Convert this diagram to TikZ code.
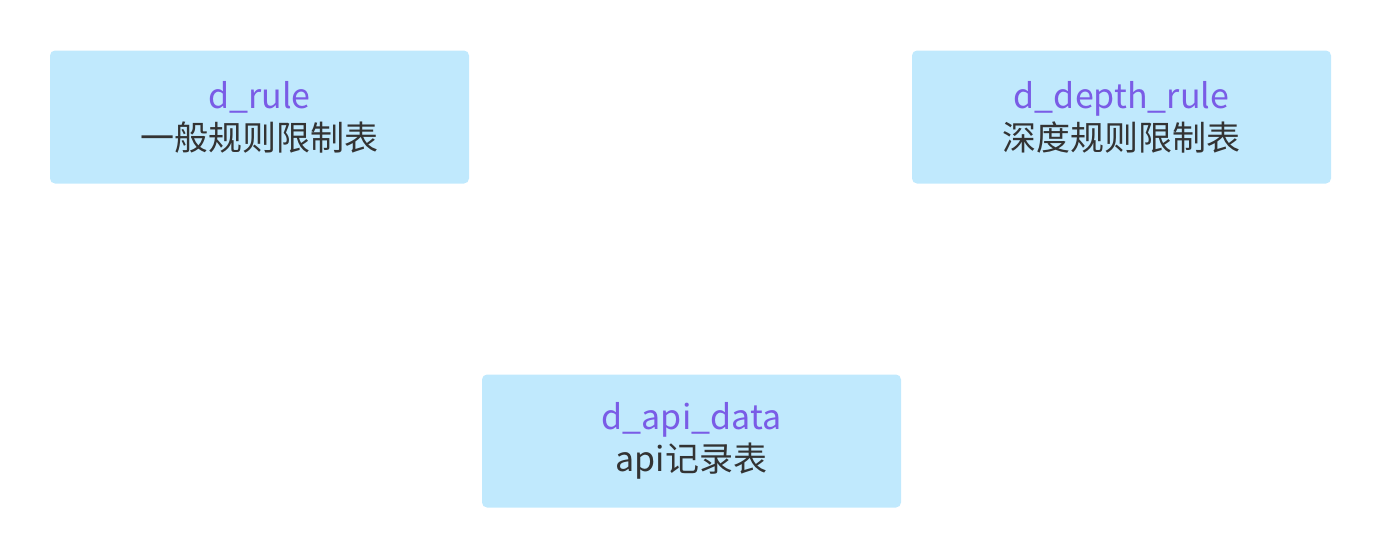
\documentclass[tikz,border=0pt]{standalone}
\usepackage{fontspec}
\setmainfont{Noto Sans CJK SC}
\definecolor{boxfill}{HTML}{C0E9FD}
\definecolor{titlec}{HTML}{7A5CE6}
\definecolor{bodyc}{HTML}{333333}
\begin{document}
\begin{tikzpicture}[x=1pt,y=-1pt,
  tbl/.style={fill=boxfill, rounded corners=5pt, minimum width=419pt, minimum height=133pt,
    align=center, inner sep=0pt, font=\fontsize{34}{42}\selectfont, text=bodyc}]
\useasboundingbox (0,0) rectangle (1382,558);
\node[tbl] (rule) at (259.5,117) {\textcolor{titlec}{d\_rule}\\一般规则限制表};
\node[tbl] (depth) at (1121.5,117) {\textcolor{titlec}{d\_depth\_rule}\\深度规则限制表};
\node[tbl] (api) at (691.5,441) {\textcolor{titlec}{d\_api\_data}\\api记录表};
\end{tikzpicture}
\end{document}
